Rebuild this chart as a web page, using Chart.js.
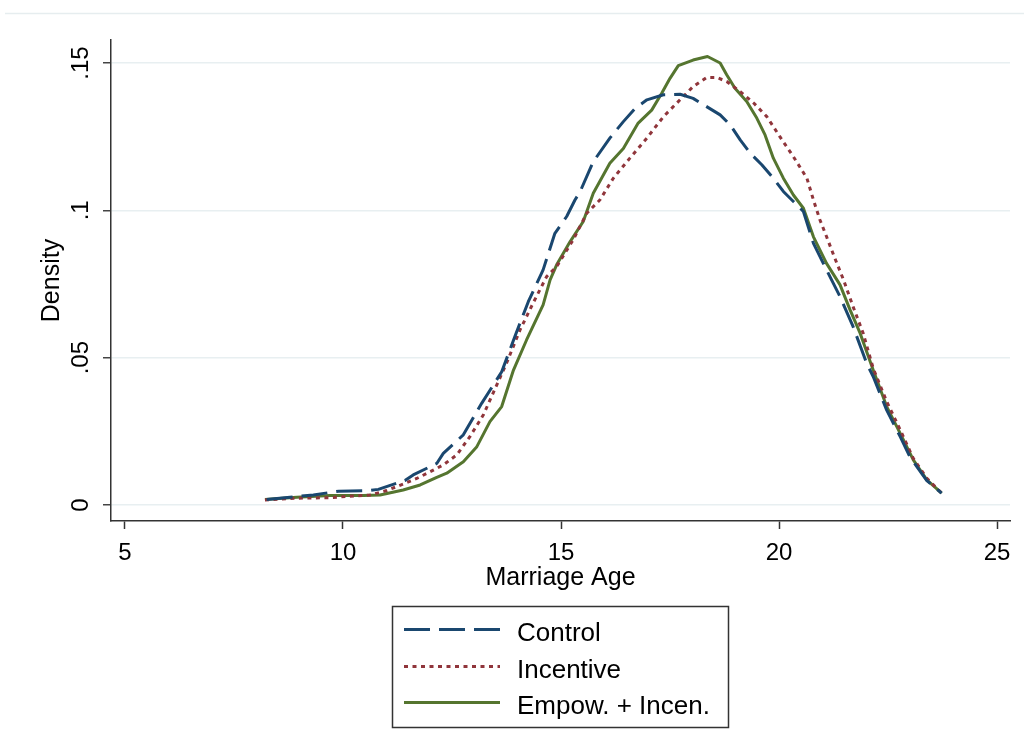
<!DOCTYPE html>
<html>
<head>
<meta charset="utf-8">
<title>Marriage Age density</title>
<script src="https://cdn.jsdelivr.net/npm/chart.js@4.4.1/dist/chart.umd.min.js"></script>
<style>
  html, body { margin: 0; padding: 0; background: #fff; }
  #wrap { width: 1024px; height: 752px; }
</style>
</head>
<body>
<div id="wrap"><canvas id="densityChart" width="1024" height="752"></canvas></div>
<script>
// kernel density estimates
const ageControl = [8.25, 9.32, 9.90, 10.60, 10.81, 11.42, 11.61, 12.15, 12.30, 12.76, 12.87, 13.18, 13.64, 13.94, 14.25, 14.59, 14.86, 15.13, 15.32, 15.44, 15.74, 16.12, 16.43, 16.70, 16.97, 17.35, 17.73, 18.03, 18.34, 18.65, 18.88, 19.11, 19.34, 19.61, 19.87, 20.10, 20.33, 20.56, 20.79, 21.09, 21.40, 21.70, 22.01, 22.16, 22.47, 22.78, 23.00, 23.39, 23.73];
const densControl = [0.0019, 0.0034, 0.0047, 0.0049, 0.0053, 0.0083, 0.0102, 0.0141, 0.0175, 0.0238, 0.0266, 0.0345, 0.0452, 0.0571, 0.0690, 0.0798, 0.0922, 0.0979, 0.1035, 0.1064, 0.1165, 0.1245, 0.1301, 0.1346, 0.1375, 0.1392, 0.1394, 0.1380, 0.1352, 0.1324, 0.1290, 0.1239, 0.1194, 0.1154, 0.1109, 0.1064, 0.1030, 0.0996, 0.0888, 0.0798, 0.0707, 0.0605, 0.0481, 0.0436, 0.0322, 0.0232, 0.0164, 0.0083, 0.0040];

const ageIncentive = [8.21, 8.94, 9.70, 10.08, 10.62, 11.00, 11.38, 11.69, 12.00, 12.30, 12.61, 12.91, 13.22, 13.75, 14.06, 14.36, 14.67, 14.90, 15.28, 15.59, 15.89, 16.20, 16.58, 16.97, 17.35, 17.73, 18.03, 18.34, 18.57, 18.80, 19.11, 19.42, 19.72, 20.02, 20.33, 20.64, 20.79, 20.94, 21.09, 21.25, 21.48, 21.70, 21.93, 22.16, 22.47, 22.78, 23.08, 23.39, 23.73];
const densIncentive = [0.0017, 0.0023, 0.0025, 0.0029, 0.0034, 0.0049, 0.0071, 0.0090, 0.0113, 0.0136, 0.0170, 0.0232, 0.0306, 0.0481, 0.0594, 0.0685, 0.0775, 0.0809, 0.0900, 0.0990, 0.1035, 0.1109, 0.1177, 0.1245, 0.1318, 0.1375, 0.1420, 0.1451, 0.1451, 0.1437, 0.1403, 0.1364, 0.1318, 0.1250, 0.1182, 0.1109, 0.1035, 0.0967, 0.0911, 0.0849, 0.0764, 0.0673, 0.0583, 0.0464, 0.0351, 0.0255, 0.0158, 0.0091, 0.0040];

const ageEmpow = [8.21, 8.94, 9.70, 10.47, 10.85, 11.38, 11.77, 12.15, 12.38, 12.76, 13.07, 13.37, 13.64, 13.91, 14.21, 14.59, 14.75, 14.90, 15.21, 15.51, 15.74, 16.12, 16.43, 16.77, 17.08, 17.31, 17.50, 17.69, 18.03, 18.36, 18.65, 18.80, 18.99, 19.26, 19.49, 19.68, 19.87, 20.10, 20.33, 20.56, 20.79, 21.09, 21.40, 21.63, 21.86, 22.16, 22.47, 22.78, 23.08, 23.39, 23.73];
const densEmpow = [0.0019, 0.0026, 0.0032, 0.0032, 0.0034, 0.0051, 0.0068, 0.0094, 0.0108, 0.0147, 0.0198, 0.0283, 0.0334, 0.0458, 0.0560, 0.0679, 0.0764, 0.0815, 0.0894, 0.0962, 0.1058, 0.1160, 0.1210, 0.1296, 0.1340, 0.1397, 0.1448, 0.1491, 0.1510, 0.1522, 0.1500, 0.1460, 0.1414, 0.1369, 0.1313, 0.1256, 0.1177, 0.1109, 0.1052, 0.1007, 0.0910, 0.0820, 0.0747, 0.0662, 0.0583, 0.0458, 0.0334, 0.0243, 0.0153, 0.0085, 0.0040];

const seriesNames = ['Control', 'Incentive', 'Empow. + Incen.'];
const xTickValues = [5, 10, 15, 20, 25];
const yTickValues = [0, 0.05, 0.1, 0.15];
const yTickLabels = ['0', '.05', '.1', '.15'];

const FONT = '"Liberation Sans", Arial, sans-serif';

function toPoints(xs, ys) {
    return xs.map((x, i) => ({ x: x, y: ys[i] }));
}

// Stata style boxed legend, stacked rows under the plot
const boxLegend = {
    id: 'boxLegend',
    afterDraw(chart) {
        const ctx = chart.ctx;
        ctx.save();
        ctx.strokeStyle = '#333';
        ctx.lineWidth = 1.5;
        ctx.strokeRect(392.5, 606.5, 336, 121);
        const rows = [629.5, 666.5, 702.5];
        chart.data.datasets.forEach((ds, i) => {
            const y = rows[i];
            ctx.beginPath();
            ctx.strokeStyle = ds.borderColor;
            ctx.lineWidth = ds.borderWidth;
            ctx.setLineDash(ds.borderDash || []);
            ctx.moveTo(404, y);
            ctx.lineTo(500, y);
            ctx.stroke();
            ctx.setLineDash([]);
            ctx.fillStyle = '#000';
            ctx.font = '26px ' + FONT;
            ctx.textBaseline = 'alphabetic';
            ctx.fillText(ds.label, 517, y + 11);
        });
        ctx.restore();
    },
    beforeDraw(chart) {
        // faint outer frame line at the top of the graph region
        const ctx = chart.ctx;
        ctx.save();
        ctx.strokeStyle = '#e6edef';
        ctx.lineWidth = 1.5;
        ctx.beginPath();
        ctx.moveTo(5, 13.5);
        ctx.lineTo(1024, 13.5);
        ctx.stroke();
        ctx.restore();
    }
};

function createChart(canvasId) {
    const ctxt = document.getElementById(canvasId).getContext('2d');
    new Chart(ctxt, {
        type: 'line',
        data: {
            datasets: [{
                label: seriesNames[0],
                data: toPoints(ageControl, densControl),
                borderColor: '#1a476f',
                borderWidth: 3,
                borderDash: [26, 9]
            }, {
                label: seriesNames[1],
                data: toPoints(ageIncentive, densIncentive),
                borderColor: '#90353b',
                borderWidth: 3,
                borderDash: [4, 4.5]
            }, {
                label: seriesNames[2],
                data: toPoints(ageEmpow, densEmpow),
                borderColor: '#55752f',
                borderWidth: 3,
                borderDash: []
            }]
        },
        options: {
            responsive: false,
            animation: false,
            devicePixelRatio: 1,
            elements: {
                point: { radius: 0 },
                line: { tension: 0, borderJoinStyle: 'round' }
            },
            layout: { padding: { left: 0, top: 40, right: 14, bottom: 151 } },
            plugins: {
                legend: { display: false },
                tooltip: { enabled: false }
            },
            scales: {
                x: {
                    type: 'linear',
                    min: 4.679,
                    max: 25.298,
                    afterBuildTicks: s => { s.ticks = xTickValues.map(v => ({ value: v })); },
                    afterFit: s => { s.height = 80; },
                    grid: { drawOnChartArea: false, tickLength: 8, tickColor: '#333', tickWidth: 1.5 },
                    border: { display: true, color: '#333', width: 1.5 },
                    ticks: {
                        color: '#000',
                        font: { family: FONT, size: 24 },
                        padding: 10,
                        maxRotation: 0,
                        callback: v => String(v)
                    },
                    title: {
                        display: true,
                        text: 'Marriage Age',
                        color: '#000',
                        font: { family: FONT, size: 25 },
                        padding: { top: 0, bottom: 8 }
                    }
                },
                y: {
                    min: -0.00543,
                    max: 0.1578,
                    afterBuildTicks: s => { s.ticks = yTickValues.map(v => ({ value: v })); },
                    afterFit: s => { s.width = 111; },
                    grid: { color: '#e8eff1', lineWidth: 1.5, tickLength: 8, tickColor: '#444', tickWidth: 1.5 },
                    border: { display: true, color: '#333', width: 1.5 },
                    ticks: {
                        color: '#000',
                        font: { family: FONT, size: 24 },
                        padding: 5,
                        minRotation: 90,
                        maxRotation: 90,
                        crossAlign: 'center',
                        callback: v => yTickLabels[yTickValues.indexOf(v)]
                    },
                    title: {
                        display: true,
                        text: 'Density',
                        color: '#000',
                        font: { family: FONT, size: 25 },
                        padding: { top: 37, bottom: 0 }
                    }
                }
            }
        },
        plugins: [boxLegend]
    });
}

document.addEventListener('DOMContentLoaded', () => {
    createChart('densityChart');
});
</script>
</body>
</html>
